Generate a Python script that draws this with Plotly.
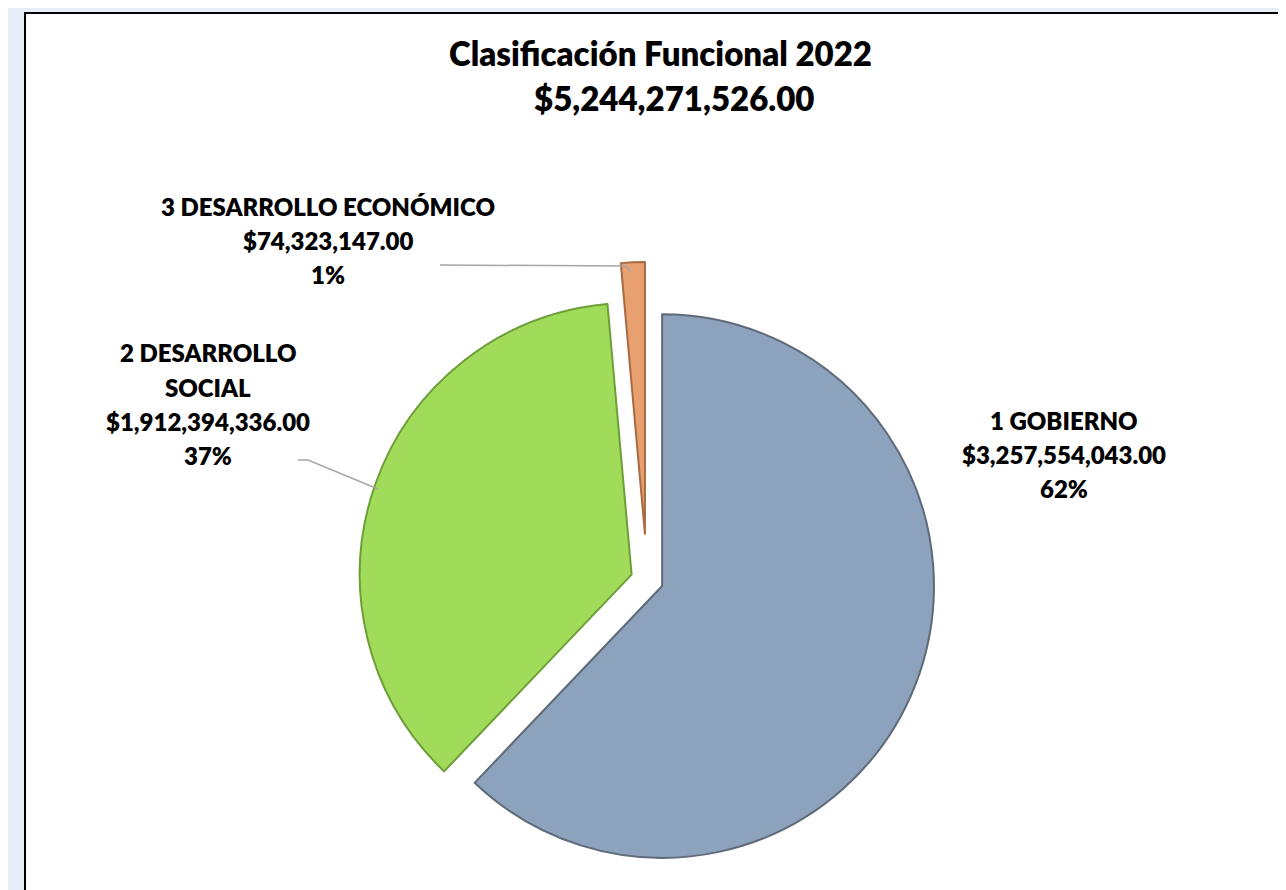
import plotly.graph_objects as go

# ---- data ----
categories = ["1 GOBIERNO", "2 DESARROLLO SOCIAL", "3 DESARROLLO ECONÓMICO"]
label_lines = [["1 GOBIERNO"], ["2 DESARROLLO", "SOCIAL"], ["3 DESARROLLO ECONÓMICO"]]
values = [3257554043.00, 1912394336.00, 74323147.00]
pct_labels = ["62%", "37%", "1%"]
title_text = "Clasificación Funcional 2022"
total_text = "$5,244,271,526.00"

colors = ["#8DA2BC", "#A0DC5A", "#E8A070"]
edge_colors = ["#5E6A78", "#6E9E38", "#A86A40"]
pulls = [0.06, 0.06, 0.17]

W, H = 1286, 890
FONT = "Lato"


def px(x):
    return x / W


def py(y):
    return 1 - y / H


fig = go.Figure()
fig.add_trace(go.Pie(
    labels=categories,
    values=values,
    sort=False,
    direction="clockwise",
    rotation=0,
    pull=pulls,
    marker=dict(colors=colors, line=dict(color=edge_colors, width=2)),
    textinfo="none",
    hoverinfo="label+value+percent",
    showlegend=False,
    domain=dict(x=[px(321), px(957)], y=[0, 636 / H]),
))

annotations = []
# Title
annotations.append(dict(x=px(652), y=py(45), xref="paper", yref="paper", text=title_text,
                        showarrow=False, font=dict(family=FONT, size=33, color="black", weight=800),
                        xanchor="center", yanchor="middle"))
annotations.append(dict(x=px(666), y=py(90), xref="paper", yref="paper", text=total_text,
                        showarrow=False, font=dict(family=FONT, size=33, color="black", weight=800),
                        xanchor="center", yanchor="middle"))

# Data labels: (center x, first line y) per slice
label_pos = [(1056, 412), (200, 345), (320, 198)]
spacing = 34
for i in range(len(values)):
    lines = label_lines[i] + ["${:,.2f}".format(values[i]), pct_labels[i]]
    cx, y0 = label_pos[i]
    for j, t in enumerate(lines):
        annotations.append(dict(x=px(cx), y=py(y0 + j * spacing), xref="paper", yref="paper",
                                text=t, showarrow=False,
                                font=dict(family=FONT, size=24, color="black", weight=800),
                                xanchor="center", yanchor="middle"))


def path(points):
    s = "M {} {}".format(px(points[0][0]), py(points[0][1]))
    for p in points[1:]:
        s += " L {} {}".format(px(p[0]), py(p[1]))
    return s


shapes = [
    # white chart area with black border
    dict(type="rect", xref="paper", yref="paper", x0=px(17), x1=px(1277), y0=py(905), y1=py(5),
         fillcolor="white", line=dict(color="black", width=2), layer="below"),
    # leader lines
    dict(type="path", xref="paper", yref="paper", path=path([(432, 257), (618, 258), (623, 264)]),
         line=dict(color="#A6A6A6", width=1.5)),
    dict(type="path", xref="paper", yref="paper", path=path([(290, 452), (300, 452), (370, 481)]),
         line=dict(color="#A6A6A6", width=1.5)),
]

fig.update_layout(
    width=W, height=H,
    margin=dict(l=0, r=0, t=0, b=0),
    paper_bgcolor="#E6EDF7",
    plot_bgcolor="white",
    annotations=annotations,
    shapes=shapes,
)

fig.write_html("out.html")
